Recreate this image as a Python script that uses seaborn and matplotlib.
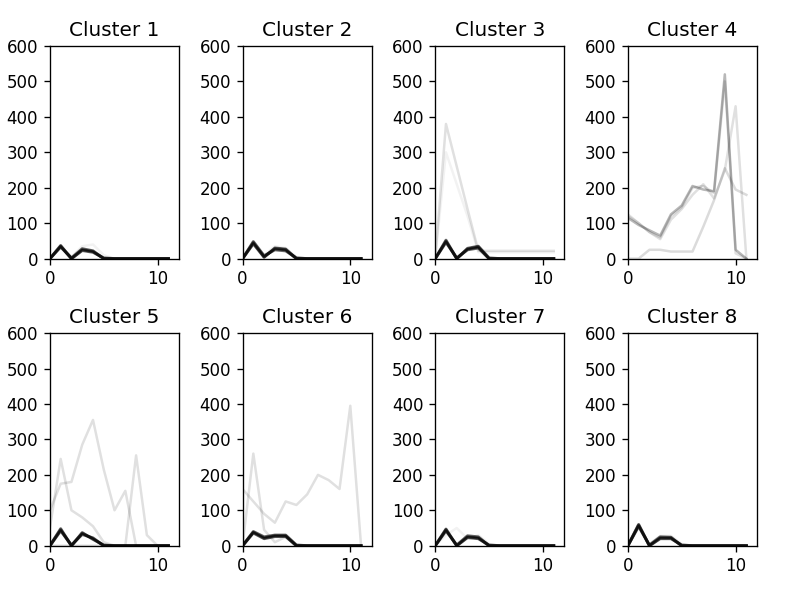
import matplotlib
matplotlib.use("Agg")
import matplotlib.pyplot as plt
import numpy as np
import seaborn as sns

hours = list(range(12))

# each cluster: core (dark, many near-identical members) and faint outlier series
core_1 = [[0, 35, 0, 25, 20, 0, 0, 0, 0, 0, 0, 0],
          [0, 33, 2, 28, 22, 0, 0, 0, 0, 0, 0, 0],
          [0, 37, 0, 23, 18, 2, 0, 0, 0, 0, 0, 0]]
faint_1 = [[0, 30, 5, 35, 40, 10, 0, 0, 0, 0, 0, 0]]

core_2 = [[0, 45, 5, 28, 25, 0, 0, 0, 0, 0, 0, 0],
          [0, 48, 8, 25, 22, 2, 0, 0, 0, 0, 0, 0],
          [0, 42, 4, 30, 27, 0, 0, 0, 0, 0, 0, 0]]
faint_2 = [[0, 40, 10, 35, 30, 5, 0, 0, 0, 0, 0, 0]]

core_3 = [[0, 49, 0, 27, 33, 0, 0, 0, 0, 0, 0, 0],
          [0, 46, 2, 25, 30, 0, 0, 0, 0, 0, 0, 0],
          [0, 52, 0, 29, 35, 2, 0, 0, 0, 0, 0, 0]]
faint_3 = [[0, 380, 260, 140, 22, 22, 22, 22, 22, 22, 22, 22],
           [0, 300, 210, 120, 18, 18, 18, 18, 18, 18, 18, 18]]

core_4 = []
faint_4 = [[115, 95, 80, 65, 125, 150, 205, 195, 190, 520, 25, 0],
           [120, 100, 75, 60, 120, 145, 200, 205, 185, 500, 15, 0],
           [0, 0, 25, 25, 20, 20, 20, 90, 165, 255, 195, 180],
           [125, 100, 75, 55, 110, 140, 180, 210, 170, 250, 430, 0]]
alpha_4 = [0.28, 0.12, 0.14, 0.12]

core_5 = [[0, 45, 0, 35, 20, 0, 0, 0, 0, 0, 0, 0],
          [0, 42, 2, 32, 22, 0, 0, 0, 0, 0, 0, 0],
          [0, 48, 0, 37, 18, 2, 0, 0, 0, 0, 0, 0]]
faint_5 = [[50, 245, 100, 80, 55, 10, 0, 0, 0, 0, 0, 0],
           [100, 175, 180, 285, 355, 215, 100, 155, 0, 0, 0, 0],
           [0, 0, 0, 0, 0, 0, 0, 0, 255, 30, 0, 0]]

core_6 = [[0, 38, 22, 28, 28, 0, 0, 0, 0, 0, 0, 0],
          [0, 40, 25, 30, 30, 2, 0, 0, 0, 0, 0, 0],
          [0, 36, 20, 26, 26, 0, 0, 0, 0, 0, 0, 0]]
faint_6 = [[0, 260, 45, 10, 25, 0, 0, 0, 0, 0, 0, 0],
           [160, 125, 90, 65, 125, 115, 145, 200, 185, 160, 395, 0]]

core_7 = [[0, 45, 0, 25, 22, 0, 0, 0, 0, 0, 0, 0],
          [0, 42, 2, 28, 25, 0, 0, 0, 0, 0, 0, 0],
          [0, 47, 0, 23, 20, 2, 0, 0, 0, 0, 0, 0]]
faint_7 = [[0, 30, 50, 20, 30, 5, 0, 0, 0, 0, 0, 0]]

core_8 = [[0, 58, 0, 22, 22, 0, 0, 0, 0, 0, 0, 0],
          [0, 55, 2, 25, 24, 0, 0, 0, 0, 0, 0, 0],
          [0, 60, 0, 20, 20, 2, 0, 0, 0, 0, 0, 0]]
faint_8 = [[0, 50, 5, 28, 28, 5, 0, 0, 0, 0, 0, 0]]

clusters = [(core_1, faint_1, None), (core_2, faint_2, None),
            (core_3, faint_3, [0.12, 0.05]), (core_4, faint_4, alpha_4),
            (core_5, faint_5, [0.12, 0.12, 0.12]), (core_6, faint_6, [0.12, 0.12]),
            (core_7, faint_7, None), (core_8, faint_8, None)]

fig, axes = plt.subplots(2, 4, figsize=(6.6, 4.917), dpi=120)
fig.subplots_adjust(left=0.063, right=0.956, top=0.922, bottom=0.075,
                    wspace=0.49, hspace=0.35)

for i, (ax, (core, faint, alphas)) in enumerate(zip(axes.flat, clusters)):
    if alphas is None:
        alphas = [0.05] * len(faint)
    for series, a in zip(faint, alphas):
        sns.lineplot(x=hours, y=series, ax=ax, color='k', alpha=a, lw=1.5)
    for series in core:
        sns.lineplot(x=hours, y=series, ax=ax, color='k', alpha=0.6, lw=1.8)
    ax.set_xlim(0, 12)
    ax.set_ylim(0, 600)
    ax.set_xticks([0, 10])
    ax.set_yticks(np.arange(0, 700, 100))
    ax.set_title('Cluster {}'.format(i + 1))

plt.savefig('out.png', dpi=120)
